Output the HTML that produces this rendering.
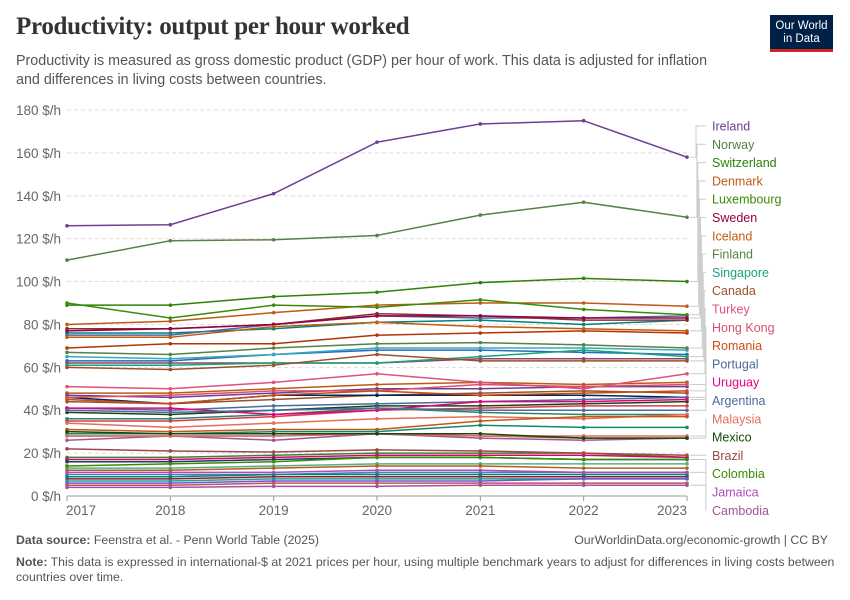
<!DOCTYPE html>
<html><head><meta charset="utf-8">
<style>
body{margin:0;background:#fff;width:850px;height:600px;overflow:hidden;font-family:"Liberation Sans",sans-serif;}
#title{position:absolute;left:16px;top:13px;font-family:"Liberation Serif",serif;font-weight:bold;font-size:25px;color:#333;letter-spacing:-0.3px;}
#sub{position:absolute;left:16px;top:52px;font-size:14.3px;color:#555;line-height:19px;width:718px;}
#logo{position:absolute;left:770px;top:15px;width:63px;height:37px;background:#002147;color:#fff;font-size:11.5px;line-height:13px;text-align:center;box-sizing:border-box;padding-top:5px;border-bottom:3px solid #ce261e;}
#foot{position:absolute;left:16px;top:533px;font-size:12.3px;color:#555;width:820px;line-height:15.5px;}
</style></head><body>
<div id="title">Productivity: output per hour worked</div>
<div id="sub">Productivity is measured as gross domestic product (GDP) per hour of work. This data is adjusted for inflation and differences in living costs between countries.</div>
<div id="logo">Our World<br>in Data</div>
<svg id="chart" width="850" height="600" style="position:absolute;left:0;top:0"></svg>
<div id="foot"><div><b>Data source:</b> Feenstra et al. - Penn World Table (2025)<span style="float:right;margin-right:8px">OurWorldinData.org/economic-growth | CC BY</span></div><div style="margin-top:6px"><b>Note:</b> This data is expressed in international-$ at 2021 prices per hour, using multiple benchmark years to adjust for differences in living costs between countries over time.</div></div>
<script>
const years=[2017,2018,2019,2020,2021,2022,2023];
const yTicks=[0,20,40,60,80,100,120,140,160,180];
const labeledNames=["Ireland","Norway","Switzerland","Denmark","Luxembourg","Sweden","Iceland","Finland","Singapore","Canada","Turkey","Hong Kong","Romania","Portugal","Uruguay","Argentina","Malaysia","Mexico","Brazil","Colombia","Jamaica","Cambodia"];
const labeledColors=["#6d3e91","#578145","#2c8308","#c05917","#3a8b06","#970046","#c15b0f","#578145","#18a47a","#9a5129","#e0507a","#d7506a","#c84d15","#4c6a9c","#e6007e","#4c6a9c","#e56e5a","#18470f","#a04848","#3a8b06","#b14ac0","#a2559c"];
const labeledValues=[
[126,126.5,141,165,173.5,175,158],
[110,119,119.5,121.5,131,137,130],
[89,89,93,95,99.5,101.5,100],
[80,81.5,85.5,89,90,90,88.5],
[90,83,89,88,91.5,87,84.5],
[77,78,80,84,84,83,83],
[74,74,79,81,79,78,77],
[67,66,69,71,71.5,70.5,69],
[61,61,62,62,65,68,65],
[60,59,61,66,63,63,63],
[51,50,53,57,53,50,57],
[46,47,49,49,52,51,52],
[45,43,47,49,47,48,49],
[41,40,42,43,44,45,46],
[41,41,38,40,44,44,45],
[40,39,40,41,40,40,40],
[28,28,28,29,28,28,28],
[30,29,29,29,29,27,27],
[22,21,20.5,21.5,21,20,19],
[14,15,16,18,18,17,17],
[11,11,11,12,12,11,11],
[4,4,4.5,4.5,5,5,5]];
const otherColors=["#00847e","#4c6a9c","#883039","#b13507","#286bbb","#8c4569","#38aaba","#be5915","#6d3e91","#9a5129","#00295b","#18470f","#d73c50","#2c8465","#e56e5a","#c05917","#0f8c6e","#996d39","#a2559c","#3f7f3a","#cf0a66","#1d3d63","#58ac8c","#b16214","#4881b0","#8c1d2f","#2a9d8f","#6a5acd","#c15065","#00847e"];
const otherValues=[
[76,76,78,81,82,80,82],[75,75,80,84,83,83,84],[78,78,80,85,84,82,82],[69,71,71,75,76,77,76],
[63,63,66,68,68,67,66],[62,62,62,62,64,64,64],[65,64,66,69,69,69,68],[48,48,50,52,53,52,53],
[47,46,48,50,50,51,51],[44,43,45,47,48,49,48],[46,43,47,47,47,47,46],[39,38,40,42,42,43,44],
[35,35,37,40,41,42,42],[36,36,38,41,39,38,38],[34,32,34,36,37,36,38],[31,30,31,31,35,37,37],
[29,29,30,30,33,32,32],[28,28,28,29,28,27,27],[26,28,26,29,27,26,27],[18,18,19,20,20,20,18],
[17,17,18,19,19,19,18],[16,16,17,18,18,17,17],[13,13,14,15,15,15,15],[12,12,13,14,14,13,13],
[10,10,10,11,11,11,11],[8,8,9,9,9,9,9],[7,7,8,8,8,8,8],[6,6,7,7,7,8,8],[5,5,6,6,6,6,6],[9,9,10,10,10,10,10]];

const svg=document.getElementById('chart');
const NS='http://www.w3.org/2000/svg';
const X0=67,X1=687,Y0=496,Y1=110;
const xs=y=>X0+(y-years[0])/(years[years.length-1]-years[0])*(X1-X0);
const ys=v=>Y0-v/180*(Y0-Y1);
function mk(tag,at){const e=document.createElementNS(NS,tag);for(const k in at)e.setAttribute(k,at[k]);svg.appendChild(e);return e;}
yTicks.forEach(t=>{
  if(t>0){const g=mk('line',{x1:X0,x2:X1,y1:ys(t),y2:ys(t),stroke:'#ddd','stroke-dasharray':'4,3'});
  
  }
  const l=mk('text',{x:61,y:ys(t)+5,'text-anchor':'end','font-size':13.5,fill:'#666','font-family':'Liberation Sans'});
  l.textContent=t+' $/h';
  
  
});
const ax=mk('line',{x1:X0,x2:X1,y1:Y0,y2:Y0,stroke:'#999'});


years.forEach((yr,i)=>{
  mk('line',{x1:xs(yr),x2:xs(yr),y1:Y0,y2:Y0+5,stroke:'#999'});
  const anchor=i==0?'start':(i==years.length-1?'end':'middle');
  const t=mk('text',{x:xs(yr)+(i==0?-1:0),y:Y0+19,'text-anchor':anchor,'font-size':13.5,fill:'#666','font-family':'Liberation Sans'});
  t.textContent=yr;
  
  
});
function drawSeries(vals,color){
  const p=mk('polyline',{points:vals.map((v,i)=>xs(years[i])+','+ys(v)).join(' '),fill:'none',stroke:color,'stroke-width':1.5});
  
  
  vals.forEach((v,i)=>{const c=mk('circle',{cx:xs(years[i]),cy:ys(v),r:1.8,fill:color});
  
  });
}
otherValues.forEach((v,i)=>drawSeries(v,otherColors[i%otherColors.length]));
labeledValues.forEach((v,i)=>drawSeries(v,labeledColors[i]));
labeledNames.forEach((n,i)=>{
  const ly=126+i*18.3;
  const ey=ys(labeledValues[i][6]);
  const bx=696+Math.min(i,11)*0.9;
  const c=mk('polyline',{points:`${X1+3},${ey} ${bx},${ey} ${bx},${ly} ${706},${ly}`,fill:'none',stroke:'#ccc','stroke-width':1});
  
  
  const t=mk('text',{x:712,y:ly+4.5,'font-size':12.5,fill:labeledColors[i],'font-family':'Liberation Sans'});
  t.textContent=n;
  
  
});
</script>
</body></html>
